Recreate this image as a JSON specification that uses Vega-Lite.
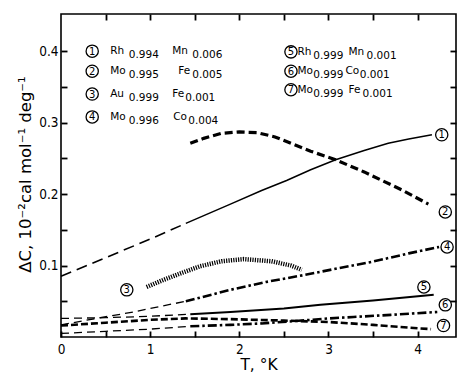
{
  "$schema": "https://vega.github.io/schema/vega-lite/v6.json",
  "width": 395,
  "height": 323,
  "autosize": {"type": "none"},
  "padding": {"left": 61, "top": 14, "right": 2, "bottom": 37},
  "background": "white",
  "config": {
    "view": {"stroke": "black", "strokeWidth": 1.6},
    "axis": {"grid": false, "domain": false, "ticks": true, "tickColor": "black", "tickOpacity": 1, "labelColor": "black", "titleColor": "black", "tickWidth": 1.8, "tickSize": 6, "offset": -6, "zindex": 1}
  },
  "datasets": {
    "curves": [
      {"curve": "1", "part": "extrapolated", "x": 0, "y": 0.085},
      {"curve": "1", "part": "extrapolated", "x": 0.5, "y": 0.111},
      {"curve": "1", "part": "extrapolated", "x": 1.0, "y": 0.137},
      {"curve": "1", "part": "extrapolated", "x": 1.4, "y": 0.159},
      {"curve": "1", "part": "measured", "x": 1.4, "y": 0.159},
      {"curve": "1", "part": "measured", "x": 1.9, "y": 0.186},
      {"curve": "1", "part": "measured", "x": 2.25, "y": 0.205},
      {"curve": "1", "part": "measured", "x": 2.53, "y": 0.219},
      {"curve": "1", "part": "measured", "x": 2.8, "y": 0.234},
      {"curve": "1", "part": "measured", "x": 3.08, "y": 0.248},
      {"curve": "1", "part": "measured", "x": 3.4, "y": 0.261},
      {"curve": "1", "part": "measured", "x": 3.67, "y": 0.271},
      {"curve": "1", "part": "measured", "x": 3.9, "y": 0.277},
      {"curve": "1", "part": "measured", "x": 4.16, "y": 0.283},
      {"curve": "2", "part": "measured", "x": 1.45, "y": 0.271},
      {"curve": "2", "part": "measured", "x": 1.6, "y": 0.278},
      {"curve": "2", "part": "measured", "x": 1.8, "y": 0.285},
      {"curve": "2", "part": "measured", "x": 2.0, "y": 0.287},
      {"curve": "2", "part": "measured", "x": 2.2, "y": 0.286},
      {"curve": "2", "part": "measured", "x": 2.4, "y": 0.28},
      {"curve": "2", "part": "measured", "x": 2.6, "y": 0.27},
      {"curve": "2", "part": "measured", "x": 2.8, "y": 0.26},
      {"curve": "2", "part": "measured", "x": 3.08, "y": 0.248},
      {"curve": "2", "part": "measured", "x": 3.4, "y": 0.231},
      {"curve": "2", "part": "measured", "x": 3.6, "y": 0.219},
      {"curve": "2", "part": "measured", "x": 3.82, "y": 0.206},
      {"curve": "2", "part": "measured", "x": 4.12, "y": 0.186},
      {"curve": "3", "part": "measured", "x": 0.96, "y": 0.07},
      {"curve": "3", "part": "measured", "x": 1.15, "y": 0.08},
      {"curve": "3", "part": "measured", "x": 1.34, "y": 0.089},
      {"curve": "3", "part": "measured", "x": 1.56, "y": 0.099},
      {"curve": "3", "part": "measured", "x": 1.8, "y": 0.106},
      {"curve": "3", "part": "measured", "x": 2.05, "y": 0.109},
      {"curve": "3", "part": "measured", "x": 2.36, "y": 0.106},
      {"curve": "3", "part": "measured", "x": 2.58, "y": 0.1},
      {"curve": "3", "part": "measured", "x": 2.7, "y": 0.094},
      {"curve": "4", "part": "extrapolated", "x": 0, "y": 0.017},
      {"curve": "4", "part": "extrapolated", "x": 0.44, "y": 0.027},
      {"curve": "4", "part": "extrapolated", "x": 0.81, "y": 0.035},
      {"curve": "4", "part": "extrapolated", "x": 1.0, "y": 0.04},
      {"curve": "4", "part": "extrapolated", "x": 1.4, "y": 0.05},
      {"curve": "4", "part": "measured", "x": 1.4, "y": 0.05},
      {"curve": "4", "part": "measured", "x": 1.9, "y": 0.066},
      {"curve": "4", "part": "measured", "x": 2.3, "y": 0.077},
      {"curve": "4", "part": "measured", "x": 2.74, "y": 0.087},
      {"curve": "4", "part": "measured", "x": 3.1, "y": 0.096},
      {"curve": "4", "part": "measured", "x": 3.48, "y": 0.105},
      {"curve": "4", "part": "measured", "x": 3.9, "y": 0.117},
      {"curve": "4", "part": "measured", "x": 4.24, "y": 0.126},
      {"curve": "5", "part": "extrapolated", "x": 0, "y": 0.026},
      {"curve": "5", "part": "extrapolated", "x": 0.5, "y": 0.027},
      {"curve": "5", "part": "extrapolated", "x": 1.0, "y": 0.029},
      {"curve": "5", "part": "extrapolated", "x": 1.45, "y": 0.032},
      {"curve": "5", "part": "measured", "x": 1.45, "y": 0.032},
      {"curve": "5", "part": "measured", "x": 1.9, "y": 0.035},
      {"curve": "5", "part": "measured", "x": 2.5, "y": 0.04},
      {"curve": "5", "part": "measured", "x": 2.91, "y": 0.045},
      {"curve": "5", "part": "measured", "x": 3.5, "y": 0.051},
      {"curve": "5", "part": "measured", "x": 4.18, "y": 0.059},
      {"curve": "6", "part": "extrapolated", "x": 0, "y": 0.005},
      {"curve": "6", "part": "extrapolated", "x": 0.5, "y": 0.008},
      {"curve": "6", "part": "extrapolated", "x": 1.0, "y": 0.011},
      {"curve": "6", "part": "extrapolated", "x": 1.45, "y": 0.015},
      {"curve": "6", "part": "measured", "x": 1.45, "y": 0.015},
      {"curve": "6", "part": "measured", "x": 1.9, "y": 0.017},
      {"curve": "6", "part": "measured", "x": 2.25, "y": 0.019},
      {"curve": "6", "part": "measured", "x": 2.7, "y": 0.023},
      {"curve": "6", "part": "measured", "x": 3.0, "y": 0.026},
      {"curve": "6", "part": "measured", "x": 3.28, "y": 0.028},
      {"curve": "6", "part": "measured", "x": 3.7, "y": 0.031},
      {"curve": "6", "part": "measured", "x": 4.22, "y": 0.035},
      {"curve": "7", "part": "measured", "x": 0, "y": 0.016},
      {"curve": "7", "part": "measured", "x": 0.5, "y": 0.02},
      {"curve": "7", "part": "measured", "x": 1.0, "y": 0.024},
      {"curve": "7", "part": "measured", "x": 1.4, "y": 0.026},
      {"curve": "7", "part": "measured", "x": 1.9, "y": 0.025},
      {"curve": "7", "part": "measured", "x": 2.5, "y": 0.023},
      {"curve": "7", "part": "measured", "x": 3.0, "y": 0.021},
      {"curve": "7", "part": "measured", "x": 3.5, "y": 0.017},
      {"curve": "7", "part": "measured", "x": 4.03, "y": 0.012},
      {"curve": "7", "part": "measured", "x": 4.15, "y": 0.011}
    ],
    "markers": [
      {"n": "1", "x": 0.35, "y": 0.4},
      {"n": "2", "x": 0.35, "y": 0.372},
      {"n": "3", "x": 0.35, "y": 0.34},
      {"n": "4", "x": 0.35, "y": 0.308},
      {"n": "5", "x": 2.579, "y": 0.399},
      {"n": "6", "x": 2.579, "y": 0.372},
      {"n": "7", "x": 2.579, "y": 0.346},
      {"n": "1", "x": 4.27, "y": 0.283},
      {"n": "2", "x": 4.31, "y": 0.175},
      {"n": "3", "x": 0.738, "y": 0.066},
      {"n": "4", "x": 4.33, "y": 0.126},
      {"n": "5", "x": 4.07, "y": 0.07},
      {"n": "6", "x": 4.31, "y": 0.045},
      {"n": "7", "x": 4.29, "y": 0.016}
    ],
    "legend": [
      {"t": "Rh", "kind": "element", "x": 0.551, "y": 0.4},
      {"t": "0.994", "kind": "subscript", "x": 0.76, "y": 0.4},
      {"t": "Mn", "kind": "element", "x": 1.247, "y": 0.4},
      {"t": "0.006", "kind": "subscript", "x": 1.472, "y": 0.4},
      {"t": "Mo", "kind": "element", "x": 0.551, "y": 0.372},
      {"t": "0.995", "kind": "subscript", "x": 0.76, "y": 0.372},
      {"t": "Fe", "kind": "element", "x": 1.315, "y": 0.372},
      {"t": "0.005", "kind": "subscript", "x": 1.472, "y": 0.372},
      {"t": "Au", "kind": "element", "x": 0.551, "y": 0.34},
      {"t": "0.999", "kind": "subscript", "x": 0.76, "y": 0.34},
      {"t": "Fe", "kind": "element", "x": 1.247, "y": 0.34},
      {"t": "0.001", "kind": "subscript", "x": 1.393, "y": 0.34},
      {"t": "Mo", "kind": "element", "x": 0.551, "y": 0.308},
      {"t": "0.996", "kind": "subscript", "x": 0.76, "y": 0.308},
      {"t": "Co", "kind": "element", "x": 1.258, "y": 0.308},
      {"t": "0.004", "kind": "subscript", "x": 1.427, "y": 0.308},
      {"t": "Rh", "kind": "element", "x": 2.652, "y": 0.399},
      {"t": "0.999", "kind": "subscript", "x": 2.83, "y": 0.399},
      {"t": "Mn", "kind": "element", "x": 3.225, "y": 0.399},
      {"t": "0.001", "kind": "subscript", "x": 3.427, "y": 0.399},
      {"t": "Mo", "kind": "element", "x": 2.652, "y": 0.372},
      {"t": "0.999", "kind": "subscript", "x": 2.83, "y": 0.372},
      {"t": "Co", "kind": "element", "x": 3.19, "y": 0.372},
      {"t": "0.001", "kind": "subscript", "x": 3.35, "y": 0.372},
      {"t": "Mo", "kind": "element", "x": 2.652, "y": 0.346},
      {"t": "0.999", "kind": "subscript", "x": 2.83, "y": 0.346},
      {"t": "Fe", "kind": "element", "x": 3.225, "y": 0.346},
      {"t": "0.001", "kind": "subscript", "x": 3.382, "y": 0.346}
    ]
  },
  "resolve": {"axis": {"x": "independent", "y": "independent"}},
  "layer": [
    {
      "data": {"name": "curves"},
      "transform": [{"filter": "datum.curve == '1' && datum.part == 'extrapolated'"}],
      "mark": {"type": "line", "color": "black", "strokeWidth": 1.6, "strokeDash": [11, 6]},
      "encoding": {
        "x": {"field": "x", "type": "quantitative", "scale": {"domain": [0, 4.43], "nice": false, "zero": false},
          "axis": {"orient": "bottom", "values": [0, 0.5, 1, 1.5, 2, 2.5, 3, 3.5, 4], "labelExpr": "datum.value % 1 == 0 ? format(datum.value, 'd') : ''", "labelPadding": 5, "labelFont": "DejaVu Sans Condensed", "labelFontSize": 13.5, "labelFlush": false, "labelOverlap": false, "title": "T, °K", "titleFont": "DejaVu Sans", "titleFontSize": 15.5, "titleFontWeight": "normal", "titleY": 38, "titleBaseline": "alphabetic"}},
        "y": {"field": "y", "type": "quantitative", "scale": {"domain": [0, 0.452], "nice": false, "zero": false},
          "axis": {"orient": "left", "values": [0.05, 0.1, 0.15, 0.2, 0.25, 0.3, 0.35, 0.4], "labelExpr": "round(datum.value * 100) % 10 == 0 ? format(datum.value, '.1f') : ''", "labelPadding": 3, "labelFont": "DejaVu Sans Condensed", "labelFontSize": 13.5, "labelFlush": false, "labelOverlap": false, "title": "ΔC,  10⁻²cal  mol⁻¹  deg⁻¹", "titleFont": "DejaVu Sans", "titleFontSize": 16.5, "titleFontWeight": "normal", "titlePadding": 5, "titleY": 160}}
      }
    },
    {
      "data": {"name": "curves"},
      "transform": [{"filter": "datum.curve != '1' && datum.part == 'extrapolated'"}],
      "mark": {"type": "line", "color": "black", "strokeWidth": 1.3, "strokeDash": [8, 5]},
      "encoding": {
        "x": {"field": "x", "type": "quantitative", "scale": {"domain": [0, 4.43], "nice": false, "zero": false},
          "axis": {"orient": "top", "values": [0.5, 1, 1.5, 2, 2.5, 3, 3.5, 4], "labels": false, "title": null}},
        "y": {"field": "y", "type": "quantitative", "scale": {"domain": [0, 0.452], "nice": false, "zero": false},
          "axis": {"orient": "right", "values": [0.05, 0.1, 0.15, 0.2, 0.25, 0.3, 0.35, 0.4], "labels": false, "title": null}},
        "detail": {"field": "curve"}
      }
    },
    {
      "data": {"name": "curves"},
      "transform": [{"filter": "datum.curve == '1' && datum.part == 'measured'"}],
      "mark": {"type": "line", "color": "black", "strokeWidth": 1.5},
      "encoding": {
        "x": {"field": "x", "type": "quantitative", "scale": {"domain": [0, 4.43], "nice": false, "zero": false}, "axis": null},
        "y": {"field": "y", "type": "quantitative", "scale": {"domain": [0, 0.452], "nice": false, "zero": false}, "axis": null}
      }
    },
    {
      "data": {"name": "curves"},
      "transform": [{"filter": "datum.curve == '5' && datum.part == 'measured'"}],
      "mark": {"type": "line", "color": "black", "strokeWidth": 2},
      "encoding": {
        "x": {"field": "x", "type": "quantitative", "scale": {"domain": [0, 4.43], "nice": false, "zero": false}, "axis": null},
        "y": {"field": "y", "type": "quantitative", "scale": {"domain": [0, 0.452], "nice": false, "zero": false}, "axis": null}
      }
    },
    {
      "data": {"name": "curves"},
      "transform": [{"filter": "datum.curve == '2'"}],
      "mark": {"type": "line", "color": "black", "strokeWidth": 3.2, "strokeDash": [8, 4]},
      "encoding": {
        "x": {"field": "x", "type": "quantitative", "scale": {"domain": [0, 4.43], "nice": false, "zero": false}, "axis": null},
        "y": {"field": "y", "type": "quantitative", "scale": {"domain": [0, 0.452], "nice": false, "zero": false}, "axis": null}
      }
    },
    {
      "data": {"name": "curves"},
      "transform": [{"filter": "datum.curve == '3'"}],
      "mark": {"type": "line", "color": "black", "strokeWidth": 4.5, "strokeDash": [1.2, 1.2]},
      "encoding": {
        "x": {"field": "x", "type": "quantitative", "scale": {"domain": [0, 4.43], "nice": false, "zero": false}, "axis": null},
        "y": {"field": "y", "type": "quantitative", "scale": {"domain": [0, 0.452], "nice": false, "zero": false}, "axis": null}
      }
    },
    {
      "data": {"name": "curves"},
      "transform": [{"filter": "(datum.curve == '4' || datum.curve == '6') && datum.part == 'measured'"}],
      "mark": {"type": "line", "color": "black", "strokeWidth": 2.6, "strokeDash": [9, 3, 2.5, 3]},
      "encoding": {
        "x": {"field": "x", "type": "quantitative", "scale": {"domain": [0, 4.43], "nice": false, "zero": false}, "axis": null},
        "y": {"field": "y", "type": "quantitative", "scale": {"domain": [0, 0.452], "nice": false, "zero": false}, "axis": null},
        "detail": {"field": "curve"}
      }
    },
    {
      "data": {"name": "curves"},
      "transform": [{"filter": "datum.curve == '7'"}],
      "mark": {"type": "line", "color": "black", "strokeWidth": 2.6, "strokeDash": [7, 3]},
      "encoding": {
        "x": {"field": "x", "type": "quantitative", "scale": {"domain": [0, 4.43], "nice": false, "zero": false}, "axis": null},
        "y": {"field": "y", "type": "quantitative", "scale": {"domain": [0, 0.452], "nice": false, "zero": false}, "axis": null}
      }
    },
    {
      "data": {"name": "markers"},
      "mark": {"type": "point", "shape": "circle", "size": 150, "filled": true, "fill": "white", "stroke": "black", "strokeWidth": 1.3, "opacity": 1},
      "encoding": {
        "x": {"field": "x", "type": "quantitative", "scale": {"domain": [0, 4.43], "nice": false, "zero": false}, "axis": null},
        "y": {"field": "y", "type": "quantitative", "scale": {"domain": [0, 0.452], "nice": false, "zero": false}, "axis": null}
      }
    },
    {
      "data": {"name": "markers"},
      "mark": {"type": "text", "font": "DejaVu Sans", "fontSize": 10, "align": "center", "baseline": "middle", "color": "black", "dy": 0.5},
      "encoding": {
        "x": {"field": "x", "type": "quantitative", "scale": {"domain": [0, 4.43], "nice": false, "zero": false}, "axis": null},
        "y": {"field": "y", "type": "quantitative", "scale": {"domain": [0, 0.452], "nice": false, "zero": false}, "axis": null},
        "text": {"field": "n"}
      }
    },
    {
      "data": {"name": "legend"},
      "transform": [{"filter": "datum.kind == 'element'"}],
      "mark": {"type": "text", "font": "DejaVu Sans", "fontSize": 10.5, "align": "left", "baseline": "middle", "color": "black"},
      "encoding": {
        "x": {"field": "x", "type": "quantitative", "scale": {"domain": [0, 4.43], "nice": false, "zero": false}, "axis": null},
        "y": {"field": "y", "type": "quantitative", "scale": {"domain": [0, 0.452], "nice": false, "zero": false}, "axis": null},
        "text": {"field": "t"}
      }
    },
    {
      "data": {"name": "legend"},
      "transform": [{"filter": "datum.kind == 'subscript'"}],
      "mark": {"type": "text", "font": "DejaVu Sans", "fontSize": 10.5, "align": "left", "baseline": "middle", "color": "black", "dy": 4},
      "encoding": {
        "x": {"field": "x", "type": "quantitative", "scale": {"domain": [0, 4.43], "nice": false, "zero": false}, "axis": null},
        "y": {"field": "y", "type": "quantitative", "scale": {"domain": [0, 0.452], "nice": false, "zero": false}, "axis": null},
        "text": {"field": "t"}
      }
    }
  ]
}
